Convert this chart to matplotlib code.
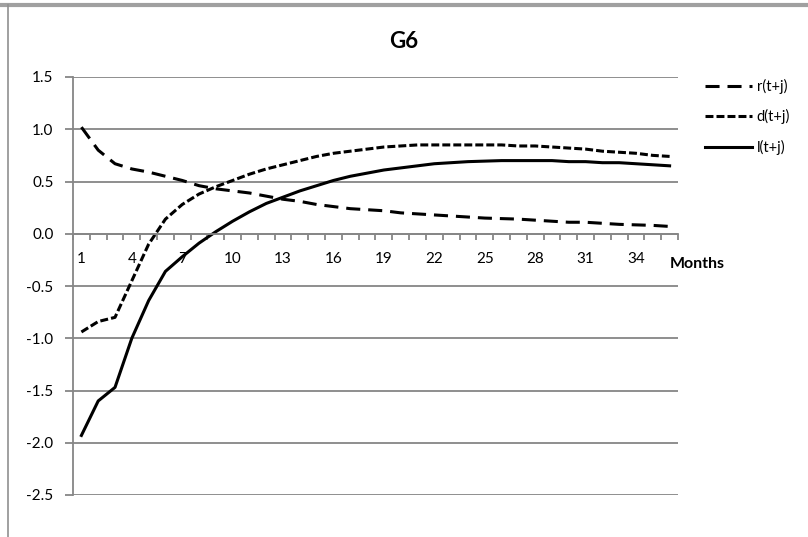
import numpy as np
import matplotlib

matplotlib.use("Agg")
import matplotlib.pyplot as plt
from matplotlib.lines import Line2D

plt.rcParams["font.family"] = ["Lato", "DejaVu Sans"]

# months 1..36
months = list(range(1, 37))
month_labels = [1, 4, 7, 10, 13, 16, 19, 22, 25, 28, 31, 34]

r_vals = [1.02, 0.80, 0.67, 0.62, 0.59, 0.55, 0.51, 0.46, 0.43, 0.41, 0.39, 0.36,
          0.33, 0.31, 0.28, 0.26, 0.24, 0.23, 0.22, 0.20, 0.19, 0.18, 0.17, 0.16,
          0.15, 0.145, 0.14, 0.13, 0.12, 0.11, 0.11, 0.10, 0.09, 0.085, 0.08, 0.07]
d_vals = [-0.94, -0.84, -0.80, -0.45, -0.10, 0.14, 0.28, 0.38, 0.45, 0.51, 0.57, 0.62,
          0.66, 0.70, 0.74, 0.77, 0.79, 0.81, 0.83, 0.84, 0.85, 0.85, 0.85, 0.85,
          0.85, 0.85, 0.84, 0.84, 0.83, 0.82, 0.81, 0.79, 0.78, 0.77, 0.75, 0.74]
l_vals = [-1.93, -1.60, -1.47, -1.00, -0.64, -0.36, -0.22, -0.09, 0.02, 0.12, 0.21, 0.29,
          0.35, 0.41, 0.46, 0.51, 0.55, 0.58, 0.61, 0.63, 0.65, 0.67, 0.68, 0.69,
          0.695, 0.70, 0.70, 0.70, 0.70, 0.69, 0.69, 0.68, 0.68, 0.67, 0.66, 0.65]

W, H = 808, 537
fig = plt.figure(figsize=(W / 100, H / 100), dpi=100)
ax = fig.add_axes([73 / W, 1 - 495 / H, (678 - 73) / W, (495 - 77) / H])

GRID = "#868686"
lw = 2.2
ax.plot(months, r_vals, color="black", lw=lw, linestyle=(0, (4.6, 2.6)), label="r(t+j)")
ax.plot(months, d_vals, color="black", lw=lw, linestyle=(0, (2.6, 1.0)), label="d(t+j)")
ax.plot(months, l_vals, color="black", lw=lw, linestyle="-", label="l(t+j)")

ax.set_xlim(0.5, 36.5)
ax.set_ylim(-2.5, 1.5)
ax.set_yticks(np.arange(-2.5, 1.51, 0.5))
ax.set_yticklabels([f"{v:.1f}" for v in np.arange(-2.5, 1.51, 0.5)])
ax.yaxis.grid(True, color=GRID, lw=1.3)
ax.set_axisbelow(True)

# category boundaries as ticks, labels every third month
ax.set_xticks(np.arange(0.5, 37, 1.0))
ax.set_xticklabels([])
ax.set_xticks(month_labels, minor=True)
ax.set_xticklabels([str(m) for m in month_labels], minor=True)
ax.tick_params(axis="x", which="major", direction="out", length=4, color=GRID, width=1.3)
ax.tick_params(axis="x", which="minor", length=0, pad=13, labelsize=11)
ax.tick_params(axis="y", direction="out", length=6, color=GRID, width=1.3, pad=8, labelsize=11)

for s in ("top", "right"):
    ax.spines[s].set_visible(False)
ax.spines["bottom"].set_position(("data", 0))
ax.spines["bottom"].set_color(GRID)
ax.spines["bottom"].set_linewidth(1.3)
ax.spines["left"].set_color(GRID)
ax.spines["left"].set_linewidth(1.3)

fig.text(404 / W, 1 - 42 / H, "G6", ha="center", va="center", fontsize=16, fontweight="bold")
fig.text(670 / W, 1 - 264 / H, "Months", ha="left", va="center", fontsize=11.5, fontweight="bold")

ax.legend(loc="upper left", bbox_to_anchor=(705 / W, 1 - 79 / H), bbox_transform=fig.transFigure,
          frameon=False, fontsize=10.5, handlelength=3.2, handletextpad=0.35, labelspacing=1.05,
          borderaxespad=0, borderpad=0)

# chart area border (cropped)
fig.add_artist(Line2D([0, 1], [1 - 5 / H, 1 - 5 / H], transform=fig.transFigure, color="#a0a0a0", lw=3))
fig.add_artist(Line2D([8 / W, 8 / W], [0, 1 - 5 / H], transform=fig.transFigure, color="#909090", lw=1.2))

fig.savefig("out.png", dpi=100)
